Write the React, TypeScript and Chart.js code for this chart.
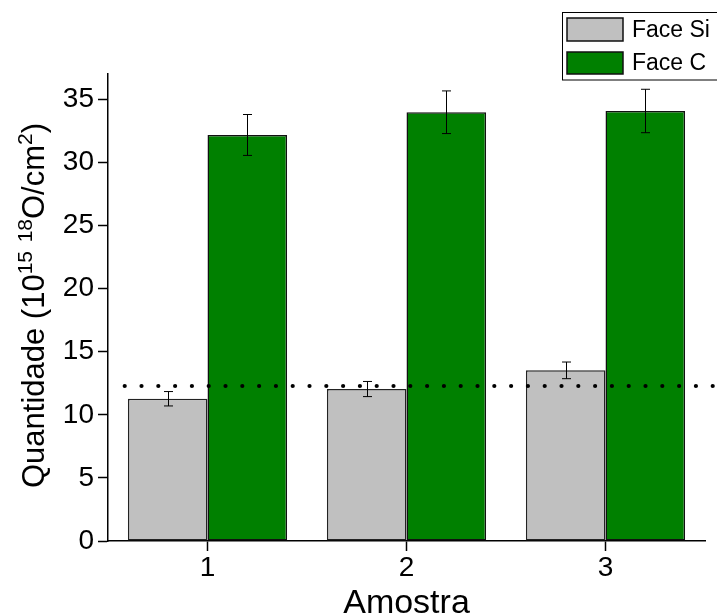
import React, { useEffect, useRef } from "react";
import { Chart, registerables } from "chart.js";

Chart.register(...registerables);

// ---- data ----
const categories = ["1", "2", "3"];
const seriesNames = ["Face Si", "Face C"];
const faceSi = [11.27, 12.04, 13.52];
const faceSiErr = [0.57, 0.6, 0.66];
const faceC = [32.17, 33.97, 34.07];
const faceCErr = [1.62, 1.69, 1.72];
const refLevel = 12.28;
const refFromSample = 0.584; // dotted line starts here (sample units)
const refToSample = 4.0;
const yMin = 0;
const yMax = 37;
const yTickValues = [0, 5, 10, 15, 20, 25, 30, 35];
const xTitle = "Amostra";

const FONT = "'Liberation Sans', Arial, sans-serif";
const colors = ["#C0C0C0", "#008000"];
const errs = [faceSiErr, faceCErr];

const errorBarPlugin = {
  id: "errorBars",
  afterDatasetsDraw(chart: any) {
    const ctx = chart.ctx;
    ctx.save();
    ctx.strokeStyle = "#000";
    ctx.lineWidth = 1;
    chart.data.datasets.forEach((ds: any, di: number) => {
      const meta = chart.getDatasetMeta(di);
      const yScale = chart.scales.y;
      meta.data.forEach((bar: any, i: number) => {
        const v = ds.data[i];
        const e = errs[di][i];
        const x = Math.round(bar.x) + 0.5;
        const yt = yScale.getPixelForValue(v + e);
        const yb = yScale.getPixelForValue(v - e);
        const cap = 4.5;
        ctx.beginPath();
        ctx.moveTo(x, yt);
        ctx.lineTo(x, yb);
        ctx.moveTo(x - cap, yt);
        ctx.lineTo(x + cap, yt);
        ctx.moveTo(x - cap, yb);
        ctx.lineTo(x + cap, yb);
        ctx.stroke();
      });
    });
    // dotted reference line
    const xs = chart.scales.x;
    const y = chart.scales.y.getPixelForValue(refLevel);
    const x0 = xs.getPixelForValue(refFromSample - 1);
    const x1 = xs.getPixelForValue(refToSample - 1);
    ctx.beginPath();
    ctx.setLineDash([0, 16.8]);
    ctx.lineCap = "round";
    ctx.lineWidth = 4.2;
    ctx.moveTo(x0, y);
    ctx.lineTo(x1, y);
    ctx.stroke();
    ctx.restore();
  },
};

const titlesPlugin = {
  id: "customTitles",
  afterDraw(chart: any) {
    const ctx = chart.ctx;
    const area = chart.chartArea;
    ctx.save();
    ctx.fillStyle = "#000";
    // x title
    ctx.font = `34px ${FONT}`;
    ctx.textAlign = "center";
    ctx.textBaseline = "alphabetic";
    ctx.fillText(xTitle, (area.left + area.right) / 2, 613);

    // y title with superscripts
    const big = `31px ${FONT}`;
    const small = `21px ${FONT}`;
    const parts: [string, boolean][] = [
      ["Quantidade (10", false],
      ["15", true],
      [" ", false],
      ["18", true],
      ["O/cm", false],
      ["2", true],
      [")", false],
    ];
    let total = 0;
    const widths = parts.map(([t, sup]) => {
      ctx.font = sup ? small : big;
      const w = ctx.measureText(t).width;
      total += w;
      return w;
    });
    const cy = (area.top + area.bottom) / 2 - 2;
    ctx.translate(44, cy);
    ctx.rotate(-Math.PI / 2);
    ctx.textAlign = "left";
    let x = -total / 2;
    parts.forEach(([t, sup], i) => {
      ctx.font = sup ? small : big;
      ctx.fillText(t, x, sup ? -12 : 0);
      x += widths[i];
    });
    ctx.restore();

    // legend
    ctx.save();
    ctx.strokeStyle = "#000";
    ctx.lineWidth = 1;
    ctx.strokeRect(562.5, 12.5, 170, 67.5);
    const rows = [
      { y: 18, h: 23 },
      { y: 52, h: 22 },
    ];
    seriesNames.forEach((name, i) => {
      const r = rows[i];
      ctx.fillStyle = colors[i];
      ctx.fillRect(567, r.y, 56, r.h);
      ctx.strokeStyle = "#111";
      ctx.lineWidth = 1.5;
      ctx.strokeRect(567, r.y, 56, r.h);
      ctx.fillStyle = "#000";
      ctx.font = `23px ${FONT}`;
      ctx.textAlign = "left";
      ctx.textBaseline = "middle";
      ctx.fillText(name, 632, r.y + r.h / 2 + 1);
    });
    ctx.restore();
  },
};

export default function App() {
  const ref = useRef<HTMLCanvasElement | null>(null);
  useEffect(() => {
    document.body.style.margin = "0";
    const canvas = ref.current!;
    const chart = new Chart(canvas, {
      type: "bar",
      data: {
        labels: categories,
        datasets: [
          {
            label: seriesNames[0],
            data: faceSi,
            backgroundColor: colors[0],
            borderColor: "#222",
            borderWidth: 1.5,
            borderSkipped: false,
          },
          {
            label: seriesNames[1],
            data: faceC,
            backgroundColor: colors[1],
            borderColor: "#111",
            borderWidth: 1.5,
            borderSkipped: false,
          },
        ],
      },
      options: {
        responsive: false,
        maintainAspectRatio: false,
        animation: false,
        devicePixelRatio: 1,
        layout: { padding: { top: 74, right: 12, left: 0, bottom: 0 } },
        datasets: { bar: { categoryPercentage: 0.8, barPercentage: 1.0 } },
        plugins: { legend: { display: false }, tooltip: { enabled: false } },
        scales: {
          x: {
            type: "category",
            offset: true,
            grid: {
              display: true,
              drawOnChartArea: false,
              drawTicks: true,
              tickLength: 10,
              tickColor: "#000",
              tickWidth: 1.5,
              offset: false,
            },
            border: { display: true, color: "#000", width: 1.5 },
            ticks: {
              color: "#000",
              font: { family: FONT, size: 28 },
              padding: 0,
              maxRotation: 0,
            },
            afterFit: (s: any) => {
              s.height = 75;
            },
          },
          y: {
            min: yMin,
            max: yMax,
            grid: {
              display: true,
              drawOnChartArea: false,
              drawTicks: true,
              tickLength: 10,
              tickColor: "#000",
              tickWidth: 1.5,
            },
            border: { display: true, color: "#000", width: 1.5 },
            ticks: {
              color: "#000",
              font: { family: FONT, size: 28 },
              padding: 4,
            },
            afterBuildTicks: (s: any) => {
              s.ticks = yTickValues.map((v) => ({ value: v }));
            },
            afterFit: (s: any) => {
              s.width = 108;
            },
          },
        },
      },
      plugins: [errorBarPlugin, titlesPlugin],
    });
    return () => chart.destroy();
  }, []);
  return (
    <div style={{ width: 717, height: 616 }}>
      <canvas ref={ref} width={717} height={616} style={{ display: "block" }} />
    </div>
  );
}
